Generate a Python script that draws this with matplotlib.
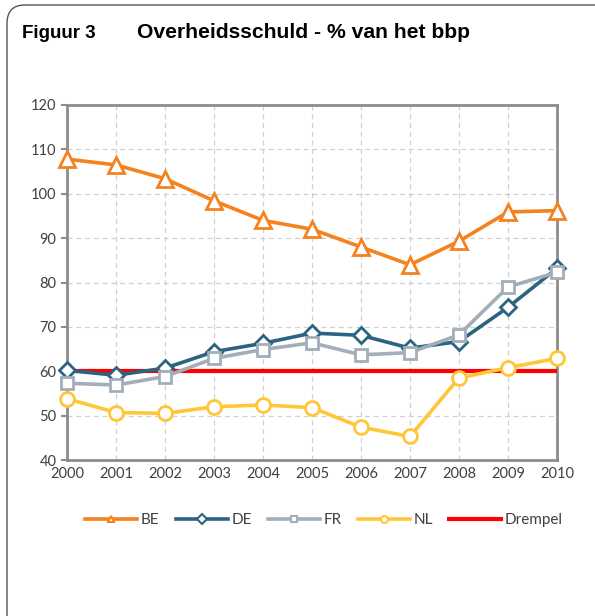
import matplotlib
matplotlib.use("Agg")
import matplotlib.pyplot as plt
from matplotlib.patches import FancyBboxPatch

# data (overheidsschuld, % van het bbp)
years = [2000, 2001, 2002, 2003, 2004, 2005, 2006, 2007, 2008, 2009, 2010]
be = [107.8, 106.5, 103.4, 98.4, 94.0, 92.0, 88.0, 84.0, 89.3, 95.9, 96.2]
de = [60.2, 59.1, 60.7, 64.4, 66.3, 68.6, 68.1, 65.2, 66.7, 74.4, 83.2]
fr = [57.3, 56.9, 58.8, 62.9, 64.9, 66.4, 63.7, 64.2, 68.2, 79.0, 82.3]
nl = [53.8, 50.7, 50.5, 52.0, 52.4, 51.8, 47.4, 45.3, 58.5, 60.8, 62.9]
drempel = [60] * len(years)
yticks = [40, 50, 60, 70, 80, 90, 100, 110, 120]

fig = plt.figure(figsize=(5.95, 6.16), dpi=100)

# rounded frame around the figure
frame = FancyBboxPatch((7 / 595, -0.05), 1.2, 1.05 - 5 / 616,
                       boxstyle="round,pad=0,rounding_size=0.03",
                       transform=fig.transFigure, facecolor="none",
                       edgecolor="#555555", linewidth=1.0, clip_on=False)
fig.patches.append(frame)

fig.text(22 / 595, 1 - 33 / 616, "Figuur 3", fontsize=13.5, fontweight="bold",
         family="Liberation Sans", va="center", ha="left")
fig.text(137 / 595, 1 - 33 / 616, "Overheidsschuld - % van het bbp", fontsize=15.2,
         fontweight="bold", family="Liberation Sans", va="center", ha="left")

ax = fig.add_axes([67 / 595, 1 - 460 / 616, 490 / 595, 355 / 616])

lw = 2.6
ax.plot(years, be, color="#F5821F", lw=lw, marker="^", ms=11.5, mfc="white",
        mec="#F5821F", mew=2, label="BE", zorder=5, clip_on=False)
ax.plot(years, de, color="#2B6480", lw=lw, marker="D", ms=8, mfc="white",
        mec="#2B6480", mew=2, label="DE", zorder=4, clip_on=False)
ax.plot(years, fr, color="#A3AEBB", lw=lw, marker="s", ms=9, mfc="white",
        mec="#A3AEBB", mew=2, label="FR", zorder=4, clip_on=False)
ax.plot(years, nl, color="#FFC637", lw=lw, marker="o", ms=10, mfc="white",
        mec="#FFC637", mew=2, label="NL", zorder=4, clip_on=False)
ax.plot(years, drempel, color="#FF0000", lw=3, label="Drempel", zorder=3)

ax.set_xlim(2000, 2010)
ax.set_ylim(40, 120)
ax.set_xticks(years)
ax.set_yticks(yticks)
ax.grid(True, color="#D0D0D0", linestyle=(0, (4, 3)), linewidth=0.9)
ax.set_axisbelow(True)

for side in ["left", "bottom", "top", "right"]:
    ax.spines[side].set_color("#8C8C8C")
    ax.spines[side].set_linewidth(2)
ax.tick_params(axis="both", colors="#8C8C8C", labelcolor="#404040", labelsize=10.5,
               length=4, width=1.5)
ax.tick_params(axis="x", length=0, pad=5)
for lab in ax.get_xticklabels() + ax.get_yticklabels():
    lab.set_family("Lato")

leg = fig.legend(loc="center", bbox_to_anchor=(324 / 595, 1 - 520 / 616), ncol=5,
                 frameon=False, handlelength=3.4, columnspacing=1.05,
                 handletextpad=0.25, prop={"family": "Lato", "size": 11})
for t in leg.get_texts():
    t.set_color("#404040")
for h in leg.legend_handles:
    h.set_markersize(5)
    h.set_markeredgewidth(1.5)

fig.savefig("out.png", dpi=100)
